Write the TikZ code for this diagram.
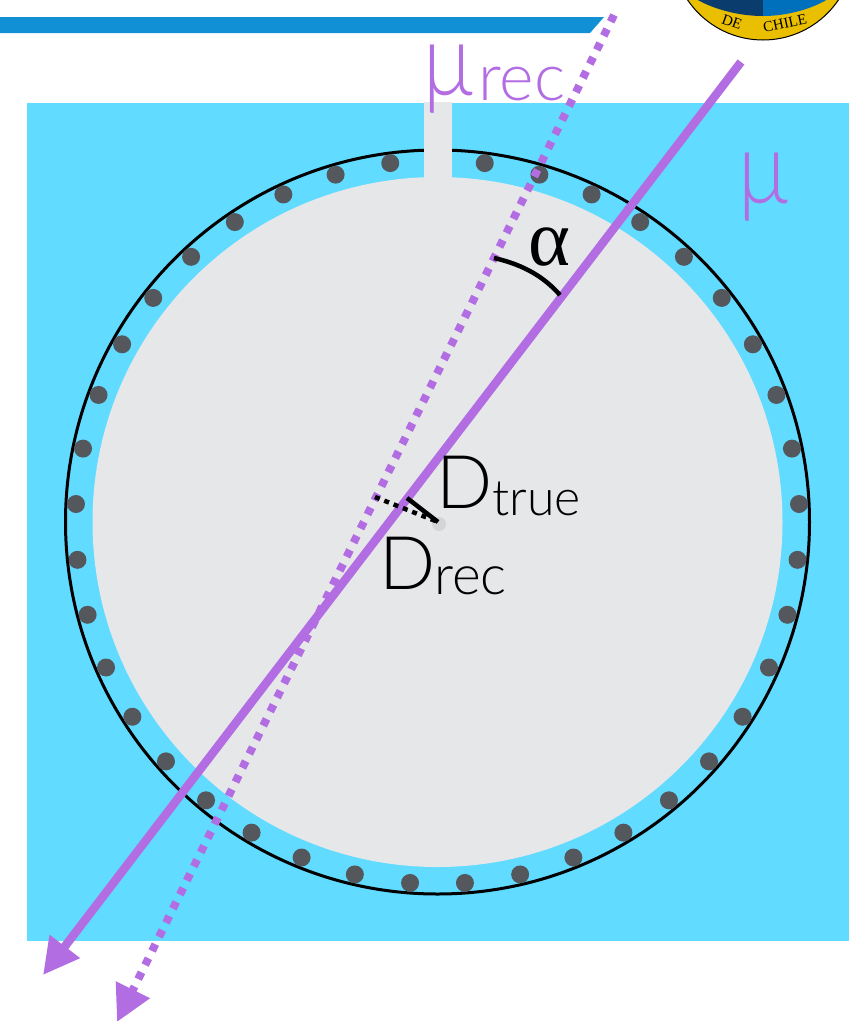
\documentclass[tikz,border=0pt]{standalone}
\usepackage{fontspec}
\usepackage{graphicx}
\setmainfont{Lato Light}
\newfontfamily\alphafont{Liberation Serif}
\newfontfamily\sealfont{Liberation Serif}
\definecolor{TankBlue}{HTML}{61DBFF}
\definecolor{TankGray}{HTML}{E6E7E9}
\definecolor{TubeGray}{HTML}{54575C}
\definecolor{MuonPurple}{HTML}{B36DE3}
\definecolor{BarBlue}{HTML}{1290D5}
\definecolor{SealYellow}{HTML}{E9BF00}
\definecolor{SealNavy}{HTML}{0A3D6E}
\definecolor{SealBlue}{HTML}{0070BC}
\usetikzlibrary{arrows.meta,positioning,calc}
\tikzset{
  pmt/.style={fill=TubeGray, draw=none},
  track/.style={MuonPurple, line width=8.5pt, -{Triangle[length=36pt,width=36pt]}},
  recotrack/.style={MuonPurple, line width=8pt, dash pattern=on 7.5pt off 8.2pt, -{Triangle[length=36pt,width=36pt]}},
  tick/.style={black, line width=4.5pt},
  big/.style={inner sep=0pt, anchor=base west, text=MuonPurple},
  dist/.style={inner sep=0pt, anchor=base west, text=black}
}
\newcommand{\fs}[1]{\fontsize{#1}{#1}\selectfont}
\newcommand{\bigmu}{\scalebox{0.9}[1.08]{\fs{94}μ}}

\begin{document}
\begin{tikzpicture}[x=1pt, y=-1pt]
    \useasboundingbox (0,0) rectangle (856,1021);
    % header and seal
    \fill[BarBlue] (0,17) -- (604,17) -- (590,33) -- (0,33) -- cycle;
    \begin{scope}
      \clip (0,0) rectangle (856,1021);
      \fill[SealYellow, draw=black, line width=1pt] (763,-51) circle[radius=91];
      \fill[SealNavy] (696,-1) .. controls (715,10) and (740,16) .. (763,16) -- (763,-1) -- cycle;
      \fill[SealBlue] (763,-1) -- (763,16) .. controls (785,16) and (810,10) .. (828,-1) -- cycle;
    \end{scope}
    \node[inner sep=0pt, rotate=-20, text=black] (sealde) at (732,22) {\sealfont\fs{15}DE};
    \node[inner sep=0pt, rotate=12, text=black] (sealchile) at (785,23) {\sealfont\fs{15}CHILE};
    % tank
    \fill[TankBlue] (27,103) rectangle (849,941);
    \draw[black, line width=3pt] (437.5,522) circle[radius=372];
    \fill[TankGray] (437.5,522) circle[radius=345];
    \fill[TankGray] (424,102) rectangle (452,180);
    \foreach \i in {0,...,19} {
      \fill[pmt] ($(437.5,522)+({270+7.5+8.85*\i}:362)$) circle[radius=9];
      \fill[pmt] ($(437.5,522)+({270-7.5-8.85*\i}:362)$) circle[radius=9];
    }
    % tracks
    \coordinate (mustart) at (741,62);
    \coordinate (muend) at (43,975);
    \coordinate (recstart) at (614,15);
    \coordinate (recend) at (117,1022);
    \draw[track] (mustart) -- (muend);
    \draw[recotrack] (recstart) -- (recend);
    % angle and distances
    \coordinate (arcstart) at (494,258);
    \coordinate (arcend) at (560,295);
    \draw[tick] (arcstart) .. controls (525,265) and (545,278) .. (arcend);
    \coordinate (core) at (438,522);
    \coordinate (truefoot) at (407,498);
    \coordinate (recfoot) at (375,497);
    \fill[TubeGray, opacity=0.12] (439,524) circle[radius=7];
    \draw[tick] (truefoot) -- (core);
    \draw[tick, dash pattern=on 5pt off 5pt] (recfoot) -- (core);
    % labels
    \node[big] (muA) at (423,95) {\bigmu};
    \node[big] (recA) at (478,100) {\fs{66}rec};
    \node[big] (muB) at (738,203) {\bigmu};
    \node[dist] (alpha) at (528,265) {\alphafont\fs{80}α};
    \node[dist] (Dtrue) at (436,508) {\fs{74}D};
    \node[dist] (true) at (492,515) {\fs{50}true};
    \node[dist] (Drec) at (379,589) {\fs{74}D};
    \node[dist] (rec) at (434,594) {\fs{55}rec};
  \end{tikzpicture}
\end{document}
